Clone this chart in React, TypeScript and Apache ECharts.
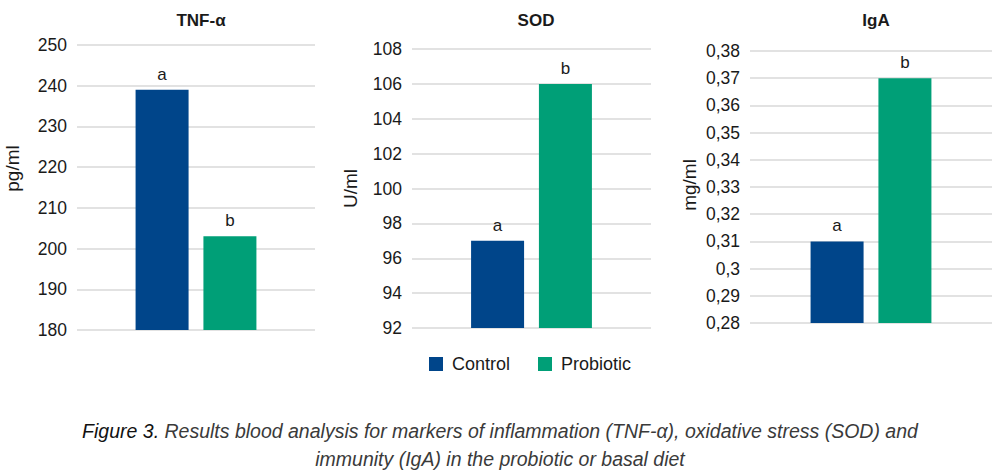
import React, { useEffect, useRef } from "react";
import * as echarts from "echarts";

const groups = ["Control", "Probiotic"];
const panels = ["TNF-α", "SOD", "IgA"];
const units = ["pg/ml", "U/ml", "mg/ml"];
const controlValues = [239, 97, 0.31];
const probioticValues = [203, 106, 0.37];
const controlLetters = ["a", "a", "a"];
const probioticLetters = ["b", "b", "b"];
const yMin = [180, 92, 0.28];
const yMax = [250, 108, 0.38];
const yInterval = [10, 2, 0.01];
const captionLine1 = "Results blood analysis for markers of inflammation (TNF-α), oxidative stress (SOD) and";
const captionLine2 = "immunity (IgA) in the probiotic or basal diet";
const figureLabel = "Figure 3.";

const colors = ["#00458A", "#009F77"];
const FONT = '"Liberation Sans", Arial, Helvetica, sans-serif';

const grids = [
  { left: 77, right: 685, top: 45, bottom: 141 },
  { left: 412, right: 349, top: 49, bottom: 143 },
  { left: 750, right: 8, top: 51, bottom: 148 },
];
const titleX = [196, 531, 871];
const nameGaps = [55, 52, 51];
const namePads = [[0, 0, 0, 38], [0, 0, 0, 0], [0, 0, 0, 4]];

export default function App() {
  const ref = useRef<HTMLDivElement>(null);
  useEffect(() => {
    document.body.style.margin = "0";
    const chart = echarts.init(ref.current!, null, { renderer: "svg" });
    const series: any[] = [];
    panels.forEach((p, i) => {
      [controlValues, probioticValues].forEach((vals, g) => {
        const letters = g === 0 ? controlLetters : probioticLetters;
        series.push({
          type: "bar",
          name: groups[g],
          xAxisIndex: i,
          yAxisIndex: i,
          data: [vals[i]],
          barWidth: 53,
          barGap: "28%",
          itemStyle: { color: colors[g] },
          label: {
            show: true,
            position: "top",
            distance: 7,
            formatter: () => letters[i],
            fontFamily: FONT,
            fontSize: 17,
            color: "#1a1a1a",
          },
        });
      });
    });
    const option: any = {
      animation: false,
      backgroundColor: "#ffffff",
      textStyle: { fontFamily: FONT },
      title: panels.map((p, i) => ({
        text: p,
        left: titleX[i],
        top: 7,
        textAlign: "center",
        textStyle: { fontFamily: FONT, fontSize: 17, fontWeight: "bold", color: "#1a1a1a" },
      })),
      legend: {
        data: groups,
        left: 429,
        top: 355,
        padding: 0,
        itemWidth: 14,
        itemHeight: 14,
        itemGap: 28,
        icon: "rect",
        textStyle: { fontFamily: FONT, fontSize: 18, color: "#1a1a1a", padding: [0, 0, 0, 4] },
      },
      grid: grids,
      xAxis: panels.map((p, i) => ({
        type: "category",
        gridIndex: i,
        data: [p],
        axisLine: { show: false },
        axisTick: { show: false },
        axisLabel: { show: false },
      })),
      yAxis: panels.map((p, i) => ({
        type: "value",
        gridIndex: i,
        min: yMin[i],
        max: yMax[i],
        interval: yInterval[i],
        name: units[i],
        nameLocation: "middle",
        nameGap: nameGaps[i],
        nameTextStyle: { fontFamily: FONT, fontSize: 19, color: "#1a1a1a", padding: namePads[i] },
        axisLine: { show: false },
        axisTick: { show: false },
        axisLabel: {
          fontFamily: FONT,
          fontSize: 17.5,
          color: "#1a1a1a",
          margin: 10,
          formatter: (v: number) => (i === 2 ? String(+v.toFixed(2)).replace(".", ",") : String(v)),
        },
        splitLine: { lineStyle: { color: "#d9d9d9", width: 1.5 } },
      })),
      series,
      graphic: [
        {
          type: "text",
          left: "center",
          top: 421,
          style: {
            text: "{f|" + figureLabel + "} " + captionLine1,
            fontFamily: FONT,
            fontSize: 19.5,
            fontStyle: "italic",
            fill: "#3a3a3a",
            rich: { f: { fontFamily: FONT, fontSize: 19.5, fontStyle: "italic", fill: "#111111", color: "#111111" } },
          },
        },
        {
          type: "text",
          left: "center",
          top: 449,
          style: {
            text: captionLine2,
            fontFamily: FONT,
            fontSize: 19.5,
            fontStyle: "italic",
            fill: "#3a3a3a",
          },
        },
      ],
    };
    chart.setOption(option);
    return () => chart.dispose();
  }, []);
  return <div ref={ref} style={{ width: 1000, height: 471 }} />;
}
